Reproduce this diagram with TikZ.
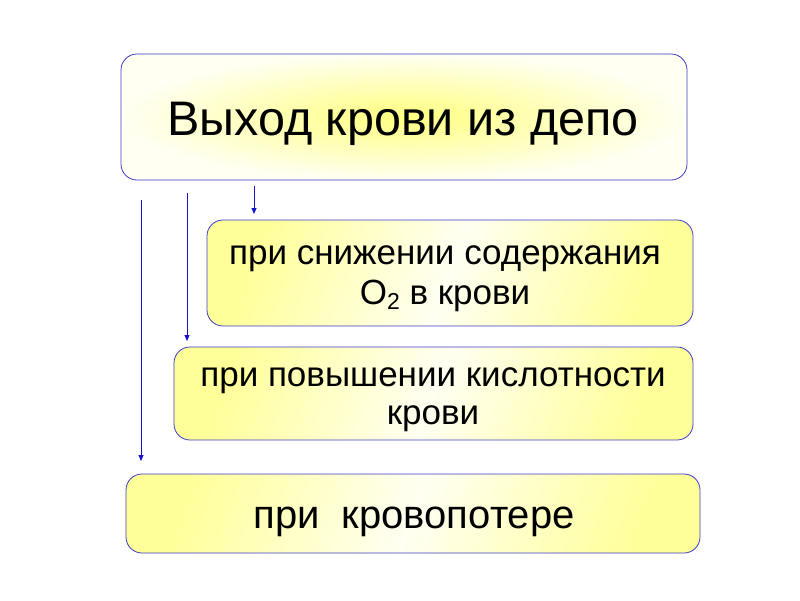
\documentclass[tikz,border=0pt]{standalone}
\usepackage{fontspec}
\setmainfont{Liberation Sans}
\usetikzlibrary{arrows.meta}
\definecolor{edgeblue}{RGB}{60,60,200}
\definecolor{arrowblue}{RGB}{20,20,200}
\tikzset{
  box/.style={draw=edgeblue, line width=0.8pt, rounded corners=16pt},
  topbox/.style={box, inner color=yellow!50, outer color=yellow!5},
  subbox/.style={box, left color=yellow!40, right color=yellow!40, middle color=yellow!5, shading angle=70},
  conn/.style={draw=arrowblue, line width=0.9pt, -{Triangle[length=6pt,width=5pt]}},
  lbl/.style={align=center, inner sep=0pt, text=black}
}
\begin{document}
\begin{tikzpicture}[x=1pt,y=-1pt]
\useasboundingbox (0,0) rectangle (800,600);
\path[topbox] (121,54) rectangle (687,180);
\path[subbox] (207,220) rectangle (693,326);
\path[subbox] (174,347) rectangle (693,440);
\path[subbox] (126,474) rectangle (700,553);
\node[lbl, font=\fontsize{48.5}{54}\selectfont] (top) at (403,124) {Выход крови из депо};
\node[lbl, font=\fontsize{35}{40}\selectfont] (b1) at (445,279) {при снижении содержания\\O\raisebox{-0.25ex}{\fontsize{23}{23}\selectfont 2} в крови};
\node[lbl, font=\fontsize{35}{38}\selectfont] (b2) at (433,400) {при повышении кислотности\\крови};
\node[lbl, font=\fontsize{40}{44}\selectfont] (b3) at (414,522) {при\ \ кровопотере};
\coordinate (s1) at (254,186);
\coordinate (e1) at (254,214);
\coordinate (s2) at (187,193);
\coordinate (e2) at (187,341);
\coordinate (s3) at (141,200);
\coordinate (e3) at (141,461);
\draw[conn] (s1) -- (e1);
\draw[conn] (s2) -- (e2);
\draw[conn] (s3) -- (e3);
\end{tikzpicture}
\end{document}
